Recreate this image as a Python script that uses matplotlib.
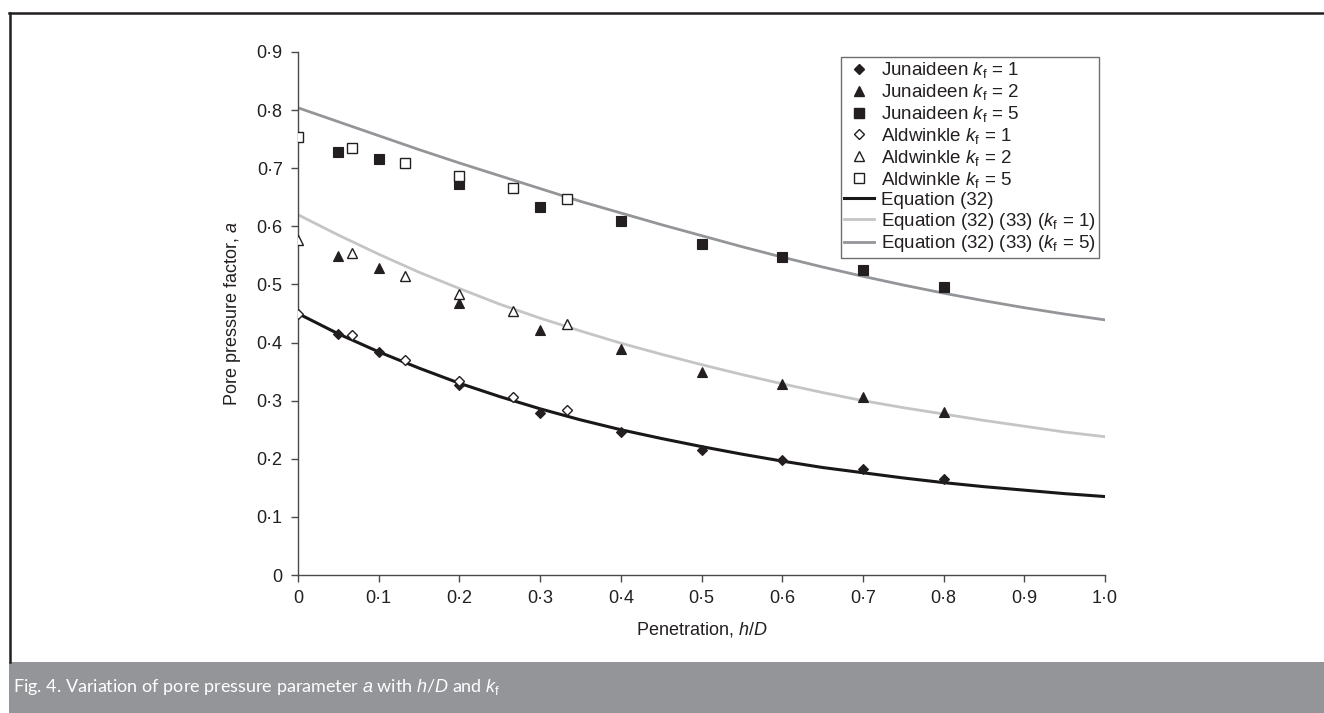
import matplotlib
matplotlib.use("Agg")
import matplotlib.pyplot as plt
from matplotlib.lines import Line2D
from matplotlib.patches import Rectangle

plt.rcParams['font.family'] = ['Liberation Sans', 'DejaVu Sans']
plt.rcParams['mathtext.fontset'] = 'custom'
plt.rcParams['mathtext.rm'] = 'Liberation Sans'
plt.rcParams['mathtext.it'] = 'Liberation Sans:italic'
plt.rcParams['mathtext.bf'] = 'Liberation Sans:bold'

# ---------------- data ----------------
x_jun = [0.05, 0.1, 0.2, 0.3, 0.4, 0.5, 0.6, 0.7, 0.8]
jun_k1 = [0.415, 0.384, 0.327, 0.279, 0.246, 0.215, 0.198, 0.182, 0.165]
jun_k2 = [0.549, 0.528, 0.468, 0.422, 0.389, 0.349, 0.329, 0.306, 0.281]
jun_k5 = [0.728, 0.716, 0.673, 0.634, 0.609, 0.569, 0.548, 0.524, 0.496]

x_ald = [0.0, 0.067, 0.133, 0.2, 0.267, 0.333]
ald_k1 = [0.449, 0.413, 0.370, 0.334, 0.306, 0.284]
ald_k2 = [0.577, 0.554, 0.515, 0.484, 0.454, 0.432]
ald_k5 = [0.754, 0.735, 0.709, 0.687, 0.666, 0.647]

x_eq = [0.0, 0.05, 0.1, 0.15, 0.2, 0.25, 0.3, 0.35, 0.4, 0.45, 0.5,
        0.55, 0.6, 0.65, 0.7, 0.75, 0.8, 0.85, 0.9, 0.95, 1.0]
eq32 = [0.450, 0.415, 0.384, 0.356, 0.330, 0.307, 0.286, 0.267, 0.250, 0.235, 0.221,
        0.208, 0.196, 0.185, 0.176, 0.167, 0.159, 0.152, 0.146, 0.140, 0.135]
eq33_k1 = [0.620, 0.585, 0.552, 0.521, 0.493, 0.466, 0.442, 0.420, 0.399, 0.380, 0.362,
           0.345, 0.329, 0.314, 0.300, 0.288, 0.277, 0.266, 0.256, 0.246, 0.238]
eq33_k5 = [0.804, 0.780, 0.756, 0.732, 0.709, 0.687, 0.665, 0.643, 0.623, 0.603, 0.584,
           0.565, 0.547, 0.530, 0.514, 0.499, 0.485, 0.472, 0.460, 0.449, 0.439]

xticks = [0, 0.1, 0.2, 0.3, 0.4, 0.5, 0.6, 0.7, 0.8, 0.9, 1.0]
xticklabels = ['0', '0·1', '0·2', '0·3', '0·4', '0·5', '0·6', '0·7', '0·8', '0·9', '1·0']
yticks = [0, 0.1, 0.2, 0.3, 0.4, 0.5, 0.6, 0.7, 0.8, 0.9]
yticklabels = ['0', '0·1', '0·2', '0·3', '0·4', '0·5', '0·6', '0·7', '0·8', '0·9']

# ---------------- figure ----------------
W, H = 1324, 713
fig = plt.figure(figsize=(W / 100, H / 100), dpi=100)
fig.patch.set_facecolor('white')

ink = '#231f20'
black_line = '#1a1718'
light_gray = '#c4c5c7'
dark_gray = '#939598'
FS = 13

ax = fig.add_axes([298 / W, 1 - 575 / H, (1105 - 298) / W, (575 - 52) / H])
ax.set_xlim(0, 1.0)
ax.set_ylim(0, 0.9)

ax.plot(x_eq, eq32, color=black_line, lw=2.2, zorder=2)
ax.plot(x_eq, eq33_k1, color=light_gray, lw=2.0, zorder=2)
ax.plot(x_eq, eq33_k5, color=dark_gray, lw=2.0, zorder=2)

mk = dict(linestyle='none', zorder=3)
ax.plot(x_jun, jun_k1, marker='D', ms=5.6, mfc=ink, mec=ink, mew=0.8, **mk)
ax.plot(x_jun, jun_k2, marker='^', ms=7.2, mfc=ink, mec=ink, mew=0.8, **mk)
ax.plot(x_jun, jun_k5, marker='s', ms=6.6, mfc=ink, mec=ink, mew=0.8, **mk)
ax.plot(x_ald, ald_k1, marker='D', ms=5.6, mfc='white', mec=ink, mew=1.0, **mk)
ax.plot(x_ald, ald_k2, marker='^', ms=7.2, mfc='white', mec=ink, mew=1.0, **mk)
ax.plot(x_ald, ald_k5, marker='s', ms=6.6, mfc='white', mec=ink, mew=1.0, **mk)

for s in ['top', 'right']:
    ax.spines[s].set_visible(False)
for s in ['left', 'bottom']:
    ax.spines[s].set_color('#4a4a4a')
    ax.spines[s].set_linewidth(1.0)

ax.set_xticks(xticks)
ax.set_xticklabels(xticklabels)
ax.set_yticks(yticks)
ax.set_yticklabels(yticklabels)
ax.tick_params(axis='both', direction='out', length=5, width=1.0, color='#4a4a4a',
               labelsize=FS, labelcolor=ink, pad=6)

ax.set_xlabel(r'Penetration, $h/D$', fontsize=FS, color=ink, labelpad=9)
ax.set_ylabel(r'Pore pressure factor, $a$', fontsize=FS, color=ink, labelpad=10)

handles = [
    Line2D([], [], ls='none', marker='D', ms=5.6, mfc=ink, mec=ink),
    Line2D([], [], ls='none', marker='^', ms=7.2, mfc=ink, mec=ink),
    Line2D([], [], ls='none', marker='s', ms=6.6, mfc=ink, mec=ink),
    Line2D([], [], ls='none', marker='D', ms=5.6, mfc='white', mec=ink, mew=1.0),
    Line2D([], [], ls='none', marker='^', ms=7.2, mfc='white', mec=ink, mew=1.0),
    Line2D([], [], ls='none', marker='s', ms=6.6, mfc='white', mec=ink, mew=1.0),
    Line2D([], [], color=black_line, lw=2.2),
    Line2D([], [], color=light_gray, lw=2.0),
    Line2D([], [], color=dark_gray, lw=2.0),
]
labels = [
    r'Junaideen $k_\mathrm{f}$ = 1',
    r'Junaideen $k_\mathrm{f}$ = 2',
    r'Junaideen $k_\mathrm{f}$ = 5',
    r'Aldwinkle $k_\mathrm{f}$ = 1',
    r'Aldwinkle $k_\mathrm{f}$ = 2',
    r'Aldwinkle $k_\mathrm{f}$ = 5',
    'Equation (32)',
    r'Equation (32) (33) ($k_\mathrm{f}$ = 1)',
    r'Equation (32) (33) ($k_\mathrm{f}$ = 5)',
]
leg = ax.legend(handles, labels, loc='upper left',
                bbox_to_anchor=(841 / W, 1 - 57 / H), bbox_transform=fig.transFigure,
                fontsize=13.5, frameon=True, fancybox=False, shadow=False,
                handlelength=1.6, handletextpad=0.35, labelspacing=0.1,
                borderpad=0.18, borderaxespad=0.0)
leg.get_frame().set_edgecolor('#4a4a4a')
leg.get_frame().set_linewidth(1.0)
for t in leg.get_texts():
    t.set_color(ink)

# figure frame (top and left) and caption bar
fig.add_artist(Line2D([10 / W, 10 / W], [1 - 662 / H, 1 - 13 / H],
                      transform=fig.transFigure, color=ink, lw=1.8))
fig.add_artist(Line2D([9 / W, 1.0], [1 - 13 / H, 1 - 13 / H],
                      transform=fig.transFigure, color=ink, lw=1.8))
fig.add_artist(Rectangle((9 / W, 0), 1 - 9 / W, (713 - 662) / H,
                         transform=fig.transFigure, facecolor='#939598',
                         edgecolor='none'))
fig.text(13 / W, 1 - 687 / H,
         r'Fig. 4. Variation of pore pressure parameter $a$ with $h$/$D$ and $k_\mathrm{f}$',
         fontsize=13, color='white', va='center', ha='left',
         family=['Lato', 'DejaVu Sans'])

fig.savefig('out.png', dpi=100)
